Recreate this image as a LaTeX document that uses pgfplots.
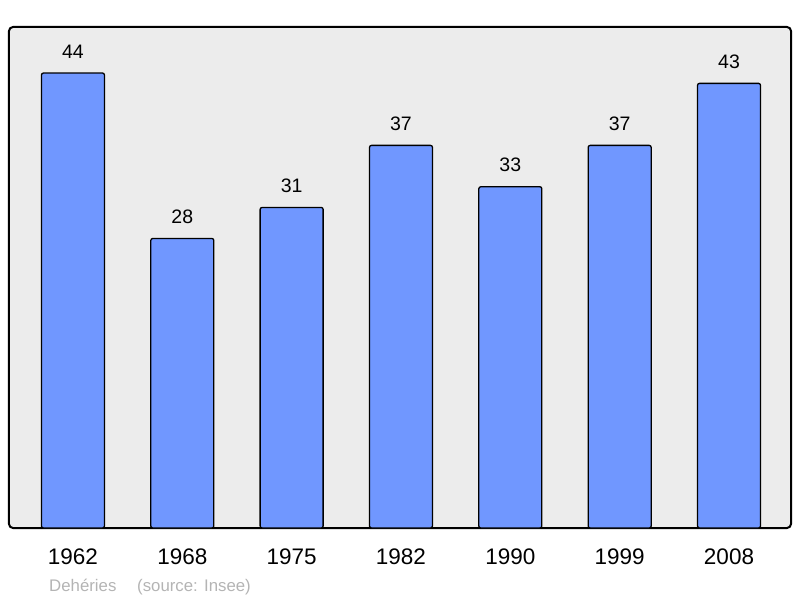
\documentclass[border=0pt]{standalone}
\usepackage{pgfplots}
\pgfplotsset{compat=1.18}
\usepackage{fontspec}
\setmainfont{Liberation Sans}
\definecolor{panel}{HTML}{ECECEC}
\definecolor{barblue}{HTML}{7097FF}
\definecolor{foot}{HTML}{B4B4B4}
\begin{document}
\begin{tikzpicture}[x=1pt,y=1pt]
\path[use as bounding box] (0,0) rectangle (800,598);
\begin{axis}[
  at={(9pt,70pt)}, anchor=south west,
  scale only axis, width=782pt, height=501pt,
  xmin=-0.585, xmax=6.567, ymin=0, ymax=48.45,
  axis background/.style={fill=panel, draw=black, line width=2pt, rounded corners=4pt},
  axis line style={draw=none},
  xtick=data, xticklabels={1962,1968,1975,1982,1990,1999,2008},
  ytick=\empty, major tick length=0pt,
  xticklabel style={font=\fontsize{22.5}{26}\selectfont, yshift=-17pt},
  ybar, bar width=63pt,
  /pgf/number format/assume math mode=true,
  nodes near coords,
  every node near coord/.style={font=\fontsize{19.5}{23}\selectfont, black, yshift=11pt},
  clip=false,
]
\addplot[fill=barblue, draw=black, line width=1.3pt, rounded corners=2pt] coordinates {
  (0,44) (1,28) (2,31) (3,37) (4,33) (5,37) (6,43)
};
\end{axis}
\node[anchor=base west, text=foot, font=\fontsize{16.8}{19}\selectfont, inner sep=0] at (49,7) {Dehéries};
\node[anchor=base west, text=foot, font=\fontsize{16.8}{19}\selectfont, inner sep=0] at (137,7) {(source: Insee)};
\end{tikzpicture}
\end{document}
